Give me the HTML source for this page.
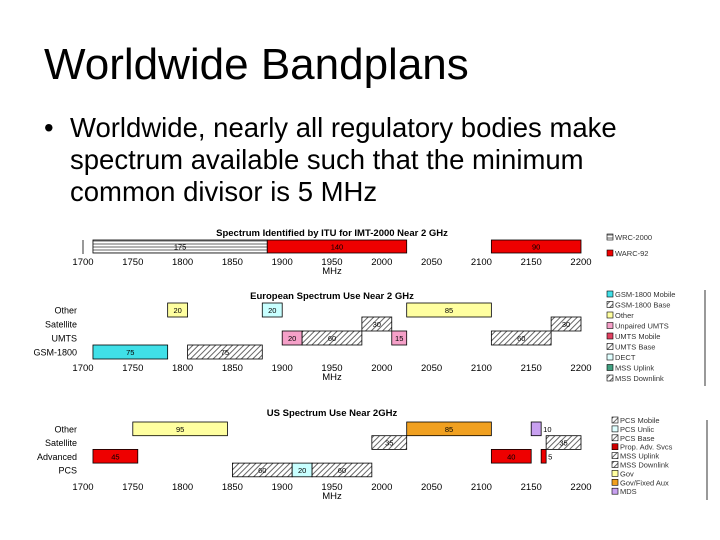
<!DOCTYPE html>
<html><head><meta charset="utf-8"><style>
body{margin:0;width:720px;height:540px;background:#fff;overflow:hidden;font-family:"Liberation Sans",sans-serif}
#title{position:absolute;left:44px;top:40px;font-size:44px;color:#000}
#bul{position:absolute;left:44px;top:112px;font-size:27.5px;line-height:32px;color:#000}
#bul .t{position:absolute;left:26px;top:0;width:575px}
svg{position:absolute;left:0;top:0}
</style></head><body>
<div id="title">Worldwide Bandplans</div>
<div id="bul"><span>•</span><div class="t">Worldwide, nearly all regulatory bodies make spectrum available such that the minimum common divisor is 5 MHz</div></div>
<svg id="c" width="720" height="540">
<defs>
<pattern id="hatch" width="4" height="4" patternUnits="userSpaceOnUse" patternTransform="rotate(45)"><rect width="4" height="4" fill="#fff"/><line x1="0" y1="0" x2="0" y2="4" stroke="#666" stroke-width="2"/></pattern>
<pattern id="horiz" width="4" height="3" patternUnits="userSpaceOnUse"><rect width="4" height="3" fill="#fff"/><line x1="0" y1="1" x2="4" y2="1" stroke="#666" stroke-width="1"/></pattern>
</defs>
</svg>
<script>
const ticks=[1700,1750,1800,1850,1900,1950,2000,2050,2100,2150,2200];
const ituStart=[1710,1885,2110];
const ituWidth=[175,140,90];
const ituFill=['url(#horiz)','#e00','#e00'];
const euRows=['Other','Satellite','UMTS','GSM-1800'];
const euRow=[0,0,0,1,1,2,2,2,2,3,3];
const euStart=[1785,1880,2025,1980,2170,1900,1920,2010,2110,1710,1805];
const euWidth=[20,20,85,30,30,20,60,15,60,75,75];
const euFill=['#ffffa0','#c8ffff','#ffffa0','url(#hatch)','url(#hatch)','#f5a0c8','url(#hatch)','#f5a0c8','url(#hatch)','#40e0e8','url(#hatch)'];
const usRows=['Other','Satellite','Advanced','PCS'];
const usRow=[0,0,0,1,1,2,2,2,3,3,3];
const usStart=[1750,2025,2150,1990,2165,1710,2110,2160,1850,1910,1930];
const usWidth=[95,85,10,35,35,45,40,5,60,20,60];
const usFill=['#ffffa0','#f0a020','#c8a0f0','url(#hatch)','url(#hatch)','#e00','#e00','#e00','url(#hatch)','#c8ffff','url(#hatch)'];
const leg1=['WRC-2000','WARC-92'];
const leg2=['GSM-1800 Mobile','GSM-1800 Base','Other','Unpaired UMTS','UMTS Mobile','UMTS Base','DECT','MSS Uplink','MSS Downlink'];
const leg3=['PCS Mobile','PCS Unlic','PCS Base','Prop. Adv. Svcs','MSS Uplink','MSS Downlink','Gov','Gov/Fixed Aux','MDS'];
const svg=document.getElementById('c');const NS='http://www.w3.org/2000/svg';
function x(v){return 83+(v-1700)*0.996;}
function el(t,a,txt){const e=document.createElementNS(NS,t);for(const k in a)e.setAttribute(k,a[k]);if(txt!==undefined)e.textContent=txt;svg.appendChild(e);return e;}
function axis(y,name){ticks.forEach(t=>{const e=el('text',{x:x(t),y:y,'text-anchor':'middle','font-size':9.5,fill:'#000'},t);

});
const m=el('text',{x:x(1950),y:y+9,'text-anchor':'middle','font-size':9.5},'MHz');

}
function title(t,y,name){const e=el('text',{x:x(1950),y:y,'text-anchor':'middle','font-size':9.5,'font-weight':'bold'},t);

}
function bars(rows,start,width,fill,y0,rh,name,outside){start.forEach((s,i)=>{const y=y0+rows[i]*rh;
const r=el('rect',{x:x(s),y:y,width:width[i]*0.996,height:rh,fill:fill[i],stroke:'#000','stroke-width':0.8});


const narrow=width[i]<=10&&outside;
const tx=el('text',{x:narrow?x(s+width[i])+2:x(s+width[i]/2),y:y+rh/2+3,'text-anchor':narrow?'start':'middle','font-size':7.5},width[i]);

});}
function rowLabels(labels,y0,rh,name){labels.forEach((l,i)=>{const e=el('text',{x:77,y:y0+i*rh+rh/2+3.5,'text-anchor':'end','font-size':9},l);

});}
function legend(items,fills,lx,ly,sp,name){items.forEach((t,i)=>{const r=el('rect',{x:lx,y:ly+i*sp-6,width:6,height:6,fill:fills[i],stroke:'#000','stroke-width':0.6});


const e=el('text',{x:lx+8,y:ly+i*sp,'font-size':7.5,fill:'#333'},t);

});}
title('Spectrum Identified by ITU for IMT-2000 Near 2 GHz',236,'itu');
el('line',{x1:83,y1:240,x2:83,y2:254,stroke:'#000','stroke-width':0.8});
bars([0,0,0],ituStart,ituWidth,ituFill,240,13,'itu',false);
axis(265,'itu');
legend(leg1,['url(#horiz)','#e00'],607,240,16,'itu');
title('European Spectrum Use Near 2 GHz',299,'europe');
rowLabels(euRows,303,14,'europe');
bars(euRow,euStart,euWidth,euFill,303,14,'europe',false);
axis(371,'europe');
legend(leg2,['#40e0e8','url(#hatch)','#ffffa0','#f5a0c8','#e04060','url(#hatch)','#e0ffff','#40a080','url(#hatch)'],607,297,10.5,'europe');
el('line',{x1:705,y1:290,x2:705,y2:386,stroke:'#000','stroke-width':0.8});
title('US Spectrum Use Near 2GHz',416,'us');
rowLabels(usRows,422,13.7,'us');
bars(usRow,usStart,usWidth,usFill,422,13.7,'us',true);
axis(490,'us');
legend(leg3,['url(#hatch)','#e0ffff','url(#hatch)','#c00','url(#hatch)','url(#hatch)','#ffffa0','#f0a020','#c8a0f0'],612,423,8.9,'us');
el('line',{x1:707,y1:420,x2:707,y2:500,stroke:'#000','stroke-width':0.8});
</script>
</body></html>
